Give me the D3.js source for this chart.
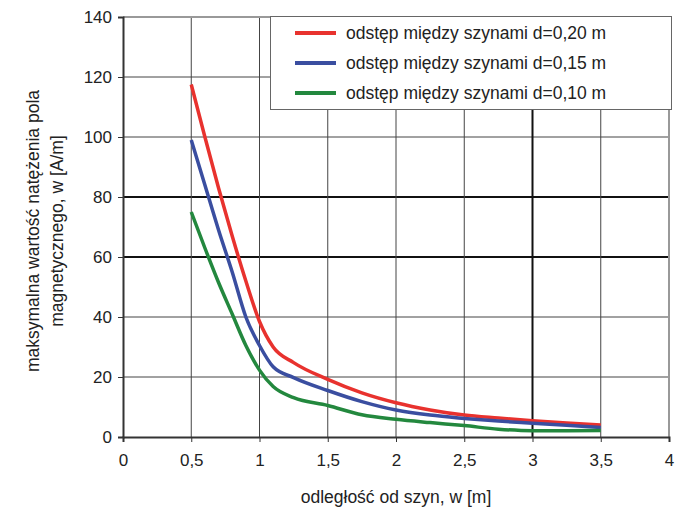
<!DOCTYPE html>
<html>
<head>
<meta charset="utf-8">
<script src="https://cdnjs.cloudflare.com/ajax/libs/d3/7.8.5/d3.min.js"></script>
<style>
  body { margin: 0; background: #fff; }
  svg text { font-family: "Liberation Sans", Arial, sans-serif; fill: #222; }
</style>
</head>
<body>
<svg width="700" height="515"></svg>
<script>
// odległość od szyn [m]
var xs = [0.5, 0.6, 0.7, 0.8, 0.9, 1.0, 1.1, 1.25, 1.5, 1.75, 2, 2.25, 2.5, 2.75, 3, 3.25, 3.5];
// natężenie pola [A/m]
var d020 = [117.5, 100, 83, 67, 52, 38.5, 30, 24.8, 19.2, 14.7, 11.4, 9, 7.3, 6.3, 5.4, 4.7, 4];
var d015 = [99, 84, 69, 55, 40, 30.5, 23.4, 19.8, 15.5, 11.8, 9, 7.3, 6.2, 5.3, 4.6, 3.9, 3.2];
var d010 = [75, 63, 51.5, 41, 30.5, 22.3, 16.8, 13.1, 10.5, 7.4, 5.9, 4.8, 3.8, 2.6, 2.1, 2.1, 2.2];
var seriesNames = ["odstęp między szynami d=0,20 m", "odstęp między szynami d=0,15 m", "odstęp między szynami d=0,10 m"];
var seriesColors = ["#e8322e", "#3a4ea0", "#23883e"];
var xTicks = [0, 0.5, 1, 1.5, 2, 2.5, 3, 3.5, 4];
var yTicks = [0, 20, 40, 60, 80, 100, 120, 140];

var svg = d3.select("svg");
var x = d3.scaleLinear().domain([0, 4]).range([123, 669]);
var y = d3.scaleLinear().domain([0, 140]).range([437, 17]);
var fmt = function(d) { return String(d).replace(".", ","); };

// grid
var g = svg.append("g");
g.selectAll(".hg").data(yTicks.filter(function(d) { return d > 0 && d < 140; }))
  .enter().append("line")
  .attr("x1", x(0)).attr("x2", x(4))
  .attr("y1", function(d) { return y(d); }).attr("y2", function(d) { return y(d); })
  .attr("stroke", function(d) { return (d == 60 || d == 80) ? "#111" : "#444"; })
  .attr("stroke-width", function(d) { return (d == 60 || d == 80) ? 2 : 1; });
g.selectAll(".vg").data(xTicks.filter(function(d) { return d > 0 && d < 4; }))
  .enter().append("line")
  .attr("y1", y(0)).attr("y2", y(140))
  .attr("x1", function(d) { return x(d); }).attr("x2", function(d) { return x(d); })
  .attr("stroke", function(d) { return d == 3 ? "#111" : "#444"; })
  .attr("stroke-width", function(d) { return d == 3 ? 2 : 1; });

// frame top/right
svg.append("line").attr("x1", x(0)).attr("x2", x(4)).attr("y1", y(140)).attr("y2", y(140))
  .attr("stroke", "#999").attr("stroke-width", 2);
svg.append("line").attr("x1", x(4)).attr("x2", x(4)).attr("y1", y(0)).attr("y2", y(140))
  .attr("stroke", "#999").attr("stroke-width", 2);

// axes
var xAxis = svg.append("g").attr("transform", "translate(0," + y(0) + ")")
  .call(d3.axisBottom(x).tickValues(xTicks).tickFormat(fmt).tickSize(5).tickPadding(12));
var yAxis = svg.append("g").attr("transform", "translate(" + x(0) + ",0)")
  .call(d3.axisLeft(y).tickValues(yTicks).tickSize(5).tickPadding(6));
[xAxis, yAxis].forEach(function(a) {
  a.select(".domain").attr("stroke", "#333").attr("stroke-width", 2);
  a.selectAll(".tick line").attr("stroke", "#333");
  a.selectAll("text").style("font-size", "17px").attr("fill", "#222");
});

// lines
var line = d3.line()
  .curve(d3.curveMonotoneX)
  .x(function(d) { return x(d[0]); })
  .y(function(d) { return y(d[1]); });
[d020, d015, d010].forEach(function(vals, i) {
  svg.append("path")
    .datum(xs.map(function(v, j) { return [v, vals[j]]; }))
    .attr("fill", "none")
    .attr("stroke", seriesColors[i])
    .attr("stroke-width", 3.5)
    .attr("stroke-linejoin", "round")
    .attr("d", line);
});

// legend
var lg = svg.append("g");
lg.append("rect").attr("x", 270.5).attr("y", 16.5).attr("width", 401).attr("height", 93)
  .attr("fill", "#fff").attr("stroke", "#666").attr("stroke-width", 1);
seriesNames.forEach(function(n, i) {
  var yy = 33 + i * 30;
  lg.append("line").attr("x1", 295).attr("x2", 336).attr("y1", yy).attr("y2", yy)
    .attr("stroke", seriesColors[i]).attr("stroke-width", 4);
  lg.append("text").attr("x", 346).attr("y", yy).attr("dy", "0.35em")
    .style("font-size", "17.5px").text(n);
});

// axis titles
svg.append("text").attr("x", x(2)).attr("y", 497).attr("dy", "0.35em")
  .attr("text-anchor", "middle").style("font-size", "17.5px").text("odległość od szyn, w [m]");
var yl = svg.append("text").attr("transform", "translate(33,231) rotate(-90)")
  .attr("text-anchor", "middle").style("font-size", "17.5px");
yl.append("tspan").attr("x", 0).attr("dy", "0.35em").text("maksymalna wartość natężenia pola");
yl.append("tspan").attr("x", 0).attr("dy", "1.35em").text("magnetycznego, w [A/m]");
</script>
</body>
</html>
